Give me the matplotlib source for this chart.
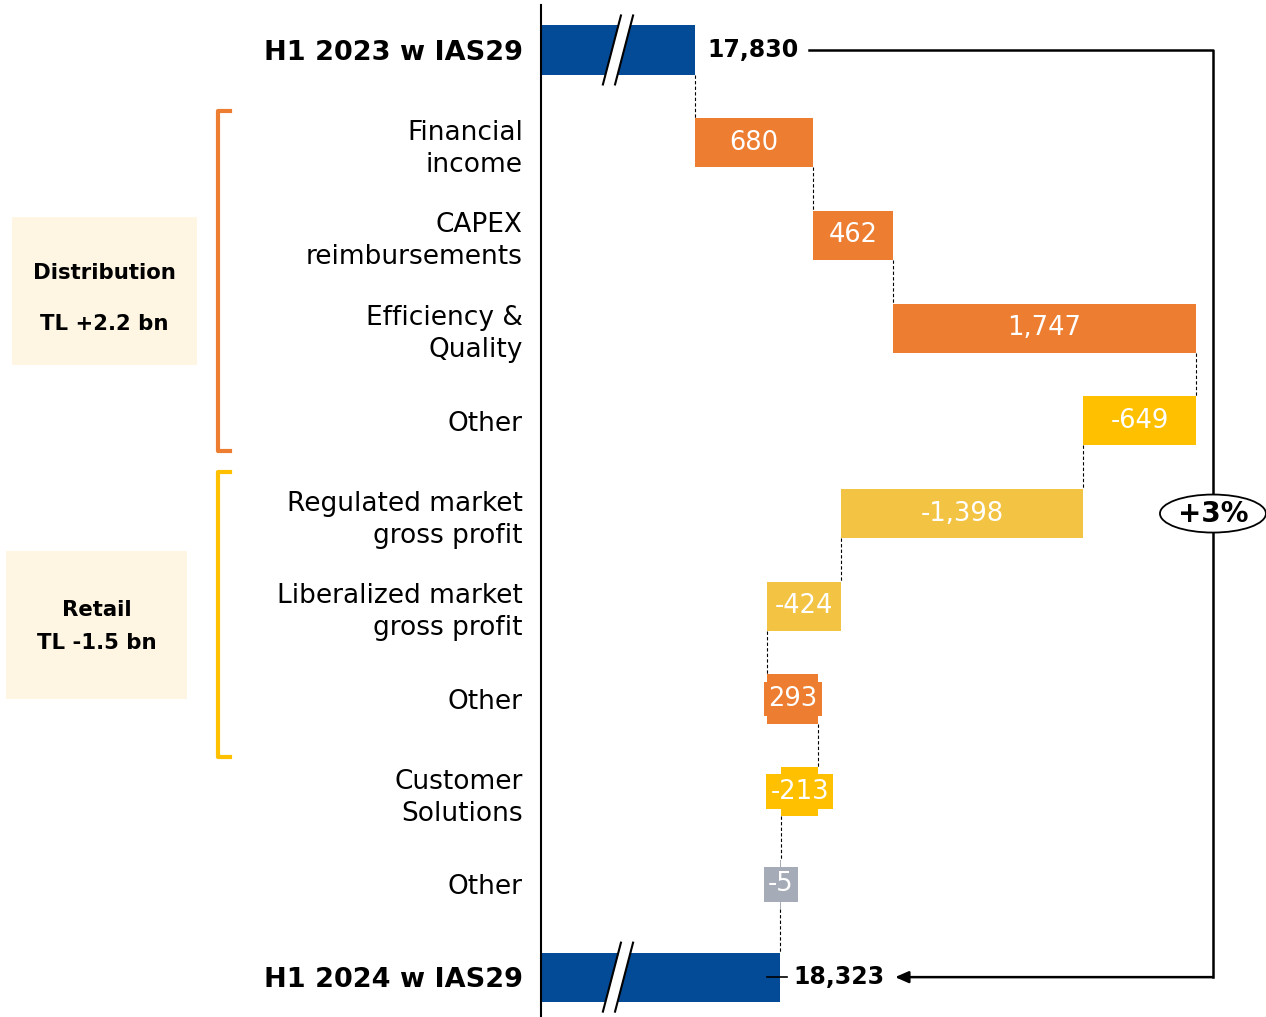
import numpy as np
import matplotlib.pyplot as plt
from matplotlib.patches import Ellipse, Rectangle, Polygon

# data
categories = ["H1 2023 w IAS29", "Financial\nincome", "CAPEX\nreimbursements",
              "Efficiency &\nQuality", "Other", "Regulated market\ngross profit",
              "Liberalized market\ngross profit", "Other", "Customer\nSolutions",
              "Other", "H1 2024 w IAS29"]
start_total = 17830
end_total = 18323
total_labels = ["17,830", "18,323"]
deltas = [680, 462, 1747, -649, -1398, -424, 293, -213, -5]
delta_labels = ["680", "462", "1,747", "-649", "-1,398", "-424", "293", "-213", "-5"]
delta_colors = ['#ED7D31', '#ED7D31', '#ED7D31', '#FFC000', '#F3C444',
                '#F3C444', '#ED7D31', '#FFC000', '#A5ACB8']
change_label = "+3%"
group_names = ["Distribution", "Retail"]
group_totals = ["TL +2.2 bn", "TL -1.5 bn"]

blue = '#034B97'
axis_start = 16942          # broken axis start
axis_end = 21123
bridge_x = 20817

fig = plt.figure(figsize=(12.66, 10.17), dpi=100)

# overlay for group boxes / brackets (pixel coordinates)
bg = fig.add_axes([0, 0, 1, 1])
bg.set_xlim(0, 1266)
bg.set_ylim(1017, 0)
bg.axis('off')
bg.add_patch(Rectangle((12, 217), 185, 148, fc='#FEF6E3', ec='none'))
bg.text(104, 273, group_names[0], ha='center', va='center', fontsize=15.3, fontweight='bold')
bg.text(104, 324, group_totals[0], ha='center', va='center', fontsize=15.3, fontweight='bold')
bg.add_patch(Rectangle((6, 551), 181, 148, fc='#FEF6E3', ec='none'))
bg.text(97, 610, group_names[1], ha='center', va='center', fontsize=15.3, fontweight='bold')
bg.text(97, 643, group_totals[1], ha='center', va='center', fontsize=15.3, fontweight='bold')
bg.plot([230, 218, 218, 230], [111, 111, 451, 451], color='#ED7D31', lw=3)
bg.plot([230, 218, 218, 230], [472, 472, 757, 757], color='#FFC000', lw=3)

ax = fig.add_axes([541 / 1266, 0, 1 - 541 / 1266, 1012 / 1017])
n = len(categories)
rows = np.arange(n)
h = 0.53

# totals
ax.barh([0, n - 1], [start_total - axis_start, end_total - axis_start],
        left=axis_start, height=h, color=blue, zorder=2)
for r, v, lab in zip([0, n - 1], [start_total, end_total], total_labels):
    ax.annotate(lab, (v, r), xytext=(9, 0), textcoords='offset points',
                ha='left', va='center', fontsize=17, fontweight='bold')

# deltas
ends = start_total + np.cumsum(deltas)
starts = ends - np.array(deltas)
lefts = np.minimum(starts, ends)
widths = np.abs(deltas)
ax.barh(rows[1:-1], widths, left=lefts, height=h, color=delta_colors, zorder=2)
for r, l, w, lab, c in zip(rows[1:-1], lefts, widths, delta_labels, delta_colors):
    ax.text(l + w / 2, r, lab, ha='center', va='center', color='white', fontsize=18.5,
            zorder=3, bbox=dict(boxstyle='square,pad=0.17', fc=c, ec='none'))

# connectors
levels = [start_total] + list(ends)
for i in range(n - 1):
    ax.plot([levels[i], levels[i]], [i + h / 2, i + 1 - h / 2], color='black',
            lw=0.8, ls=(0, (3, 2)), zorder=1)
ax.plot([end_total - 80, end_total + 35], [n - 1, n - 1], color='black', lw=1.2, zorder=3)

# break marks
for r in (0, n - 1):
    c = axis_start + 444
    hh, sl, gp = 0.372, 52, 35
    ax.add_patch(Polygon([(c - gp - sl, r + hh), (c + gp - sl, r + hh),
                          (c + gp + sl, r - hh), (c - gp + sl, r - hh)],
                         closed=True, fc='white', ec='none', zorder=4, clip_on=False))
    for s in (-gp, gp):
        ax.plot([c + s - sl, c + s + sl], [r + hh, r - hh], color='black', lw=1.5,
                zorder=5, clip_on=False)

# bridge line with arrow
ax.plot([18490, bridge_x, bridge_x], [0, 0, n - 1], color='black', lw=1.8, zorder=2,
        clip_on=False)
ax.annotate('', xy=(18984, n - 1), xytext=(bridge_x, n - 1),
            arrowprops=dict(arrowstyle='-|>,head_length=0.8,head_width=0.35',
                            color='black', lw=1.8, shrinkA=0, shrinkB=0))
ax.add_patch(Ellipse((bridge_x, 5), 611, 0.41, fc='white', ec='black', lw=1.3,
                     zorder=6, clip_on=False))
ax.text(bridge_x, 5, change_label, ha='center', va='center', fontsize=20,
        fontweight='bold', zorder=7)

ax.set_xlim(axis_start, axis_end)
ax.set_ylim(n - 1 + 0.43, -0.485)
ax.set_xticks([])
ax.set_yticks(rows, categories, fontsize=19, linespacing=1.3)
ax.tick_params(axis='y', length=0, pad=13)
for i in (0, n - 1):
    ax.get_yticklabels()[i].set_fontweight('bold')
    ax.get_yticklabels()[i].set_fontsize(19.5)
for s in ['top', 'right', 'bottom']:
    ax.spines[s].set_visible(False)
ax.spines['left'].set_linewidth(1.5)
ax.patch.set_alpha(0)

fig.savefig('out.png', dpi=100)
